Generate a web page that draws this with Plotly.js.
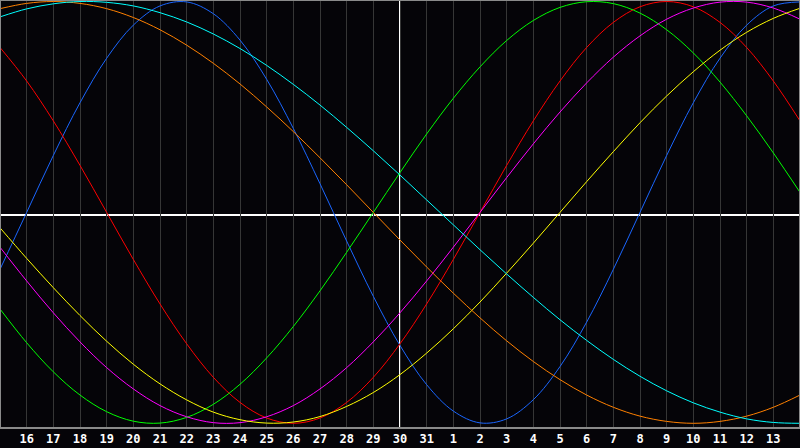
<!DOCTYPE html>
<html>
<head>
<meta charset="utf-8">
<script src="https://cdn.plot.ly/plotly-3.0.1.min.js"></script>
<style>html,body{margin:0;padding:0;background:#050408;}#chart{width:800px;height:448px;}</style>
</head>
<body>
<div id="chart"></div>
<script>
// Days shown (Oct 15 -> Nov 14)
const dates = ['2023-10-15','2023-10-16','2023-10-17','2023-10-18','2023-10-19','2023-10-20','2023-10-21','2023-10-22',
  '2023-10-23','2023-10-24','2023-10-25','2023-10-26','2023-10-27','2023-10-28','2023-10-29','2023-10-30','2023-10-31',
  '2023-11-01','2023-11-02','2023-11-03','2023-11-04','2023-11-05','2023-11-06','2023-11-07','2023-11-08','2023-11-09',
  '2023-11-10','2023-11-11','2023-11-12','2023-11-13','2023-11-14'];
const tickDates = dates.slice(1, 30);
const tickLabels = ['16','17','18','19','20','21','22','23','24','25','26','27','28','29','30','31',
  '1','2','3','4','5','6','7','8','9','10','11','12','13'];
const todayDate = '2023-10-30';

// cycle values (-1 .. 1), one per day
const physical = [-0.270,0.000,0.270,0.520,0.731,0.888,0.979,0.998,0.942,0.817,0.631,0.398,0.136,-0.136,-0.398,-0.631,-0.817,-0.942,-0.998,-0.979,-0.888,-0.731,-0.520,-0.270,0.000,0.270,0.520,0.731,0.888,0.979,0.998];
const emotional = [0.782,0.623,0.434,0.223,0.000,-0.223,-0.434,-0.623,-0.782,-0.901,-0.975,-1.000,-0.975,-0.901,-0.782,-0.623,-0.434,-0.223,0.000,0.223,0.434,0.623,0.782,0.901,0.975,1.000,0.975,0.901,0.782,0.623,0.434];
const intellectual = [-0.458,-0.618,-0.756,-0.866,-0.945,-0.990,-0.999,-0.972,-0.910,-0.815,-0.690,-0.541,-0.372,-0.189,0.000,0.189,0.372,0.541,0.690,0.815,0.910,0.972,0.999,0.990,0.945,0.866,0.756,0.618,0.458,0.282,0.095];
const intuitive = [-0.165,-0.325,-0.476,-0.614,-0.736,-0.837,-0.916,-0.969,-0.997,-0.997,-0.969,-0.916,-0.837,-0.736,-0.614,-0.476,-0.325,-0.165,0.000,0.165,0.325,0.476,0.614,0.736,0.837,0.916,0.969,0.997,0.997,0.969,0.916];
const aesthetic = [-0.073,-0.218,-0.357,-0.489,-0.611,-0.720,-0.813,-0.889,-0.947,-0.983,-0.999,-0.994,-0.968,-0.920,-0.854,-0.769,-0.667,-0.552,-0.425,-0.288,-0.146,0.000,0.146,0.288,0.425,0.552,0.667,0.769,0.854,0.920,0.968];
const awareness = [0.966,0.991,1.000,0.991,0.966,0.924,0.866,0.793,0.707,0.609,0.500,0.383,0.259,0.131,0.000,-0.131,-0.259,-0.383,-0.500,-0.609,-0.707,-0.793,-0.866,-0.924,-0.966,-0.991,-1.000,-0.991,-0.966,-0.924,-0.866];
const spiritual = [0.927,0.965,0.989,1.000,0.996,0.979,0.947,0.903,0.846,0.777,0.697,0.607,0.509,0.403,0.292,0.177,0.059,-0.059,-0.177,-0.292,-0.403,-0.509,-0.607,-0.697,-0.777,-0.846,-0.903,-0.947,-0.979,-0.996,-1.000];

const series = [
  {name:'Physical', y:physical, color:'#1a66ff'},
  {name:'Emotional', y:emotional, color:'#ff0000'},
  {name:'Intellectual', y:intellectual, color:'#00ff00'},
  {name:'Intuitive', y:intuitive, color:'#ff00ff'},
  {name:'Aesthetic', y:aesthetic, color:'#ffff00'},
  {name:'Awareness', y:awareness, color:'#ff8000'},
  {name:'Spiritual', y:spiritual, color:'#00ffff'}
];

const traces = series.map(s => ({
  x: dates, y: s.y, name: s.name, type: 'scatter', mode: 'lines',
  line: {color: s.color, width: 1, shape: 'spline', smoothing: 1},
  hoverinfo: 'skip'
}));

const layout = {
  width: 800, height: 448,
  margin: {l: 0, r: 0, t: 0, b: 20, pad: 0},
  paper_bgcolor: '#050408', plot_bgcolor: '#050408',
  showlegend: false,
  xaxis: {
    type: 'date', range: [dates[0], dates[dates.length-1]],
    tickmode: 'array', tickvals: tickDates, ticktext: tickLabels,
    showgrid: true, gridcolor: '#363636', gridwidth: 1,
    zeroline: false, showline: false, ticks: '', ticklen: 0, ticklabelstandoff: 2,
    tickfont: {family: 'DejaVu Sans Mono', size: 12, color: '#ffffff', weight: 'bold'}
  },
  yaxis: {
    range: [-1.0223, 1.0071], showgrid: false, zeroline: false,
    showticklabels: false, ticks: '', showline: false, fixedrange: true
  },
  shapes: [
    {type: 'line', xref: 'x', yref: 'paper', x0: todayDate, x1: todayDate, y0: 0, y1: 1,
     line: {color: '#ffffff', width: 2}, layer: 'below'},
    {type: 'line', xref: 'paper', yref: 'paper', x0: 0, x1: 1, y0: 0.4977, y1: 0.4977,
     line: {color: '#ffffff', width: 2}, layer: 'below'},
    {type: 'rect', xref: 'paper', yref: 'paper', x0: 0, x1: 1, y0: 0, y1: 1,
     line: {color: '#8a8a8a', width: 2}, fillcolor: 'rgba(0,0,0,0)'}
  ]
};

Plotly.newPlot('chart', traces, layout, {displayModeBar: false, staticPlot: true});
</script>
</body>
</html>
